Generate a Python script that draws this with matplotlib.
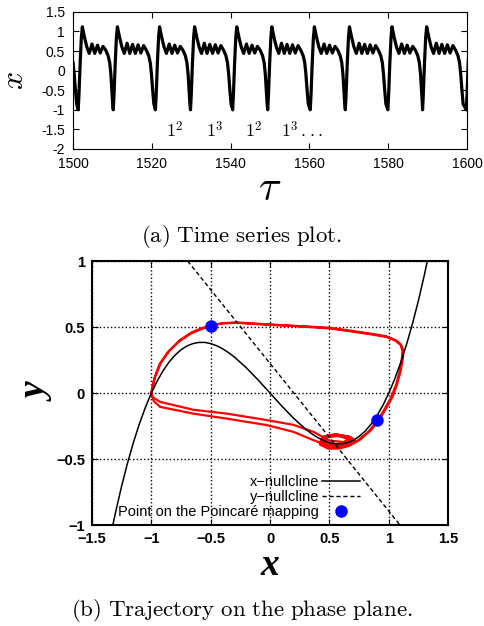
import matplotlib
matplotlib.use("Agg")
import matplotlib.pyplot as plt

plt.rcParams['font.family'] = 'Liberation Sans'
plt.rcParams['mathtext.fontset'] = 'cm'

# ---- (a) time series: one 1^2 cycle and one 1^3 cycle (time from the minimum)
short_dt = [0.0, 0.2, 0.5, 0.8, 1.05, 1.6, 2.2, 2.8, 3.5, 4.2, 4.9, 5.6, 6.3, 7.0, 7.6, 8.0, 8.3, 8.55, 8.75]
short_x = [-1.0, -0.6, 0.2, 0.85, 1.12, 0.85, 0.6, 0.44, 0.68, 0.44, 0.65, 0.45, 0.62, 0.52, 0.38, 0.2, -0.1, -0.5, -0.85]
long_dt = [0.0, 0.2, 0.5, 0.8, 1.05, 1.6, 2.2, 2.8, 3.5, 4.2, 4.9, 5.6, 6.3, 7.0, 7.7, 8.4, 9.0, 9.4, 9.7, 10.0, 10.3]
long_x = [-1.0, -0.6, 0.2, 0.85, 1.12, 0.85, 0.6, 0.44, 0.7, 0.44, 0.67, 0.44, 0.66, 0.45, 0.64, 0.52, 0.38, 0.2, -0.1, -0.5, -0.85]
cycle_start = [1490.6, 1501.3, 1510.2, 1520.9, 1529.8, 1540.5, 1549.4, 1560.2, 1569.1, 1579.9, 1588.7, 1599.8]
cycle_type = ['L', 'S', 'L', 'S', 'L', 'S', 'L', 'S', 'L', 'S', 'L', 'S']

ts_xticks = [1500, 1520, 1540, 1560, 1580, 1600]
ts_yticks = [-2, -1.5, -1, -0.5, 0, 0.5, 1, 1.5]
ts_yticklabels = ['-2', '-1.5', '-1', '-0.5', '0', '0.5', '1', '1.5']
mmo_labels = [r'$\mathsf{1}^{\mathsf{2}}$', r'$\mathsf{1}^{\mathsf{3}}$', r'$\mathsf{1}^{\mathsf{2}}$',
              r'$\mathsf{1}^{\mathsf{3}}\,\mathsf{...}$']
mmo_tau = [1525.8, 1535.9, 1545.9, 1558.0]
mmo_x = -1.55

# ---- (b) phase plane
xnull_x = [-1.34, -1.3, -1.25, -1.2, -1.15, -1.1, -1.05, -1.0, -0.95, -0.9, -0.85, -0.8, -0.75, -0.7,
           -0.65, -0.6, -0.55, -0.5, -0.45, -0.4, -0.35, -0.3, -0.2, -0.1, 0.0, 0.1, 0.2, 0.3, 0.35,
           0.4, 0.45, 0.5, 0.55, 0.6, 0.65, 0.7, 0.75, 0.8, 0.85, 0.9, 0.95, 1.0, 1.05, 1.1, 1.15,
           1.2, 1.25, 1.3, 1.34]
xnull_y = [-1.066, -0.897, -0.703, -0.528, -0.371, -0.231, -0.108, 0.0, 0.093, 0.171, 0.236, 0.288, 0.328,
           0.357, 0.375, 0.384, 0.384, 0.375, 0.359, 0.336, 0.307, 0.273, 0.192, 0.099, 0.0, -0.099,
           -0.192, -0.273, -0.307, -0.336, -0.359, -0.375, -0.384, -0.384, -0.375, -0.357, -0.328,
           -0.288, -0.236, -0.171, -0.093, 0.0, 0.108, 0.231, 0.371, 0.528, 0.703, 0.897, 1.066]
ynull_x = [-0.694, 1.095]
ynull_y = [1.0, -1.0]

traj_x = [-1.0, -0.97, -0.92, -0.85, -0.76, -0.66, -0.58, -0.5, -0.4, -0.28, -0.1, 0.1, 0.3, 0.5, 0.7, 0.85,
          0.98, 1.06, 1.1, 1.12, 1.12, 1.1, 1.07, 1.03, 0.98, 0.92, 0.85, 0.76, 0.68, 0.6, 0.5, 0.43,
          0.45, 0.55, 0.67, 0.71, 0.64, 0.54, 0.46, 0.48, 0.58, 0.66, 0.62, 0.5, 0.365, 0.196, -0.028,
          -0.365, -0.646, -0.927, -0.99,
          -1.0, -0.975, -0.93, -0.86, -0.77, -0.67, -0.58, -0.5, -0.4, -0.28, -0.1, 0.1, 0.3, 0.5, 0.7,
          0.85, 0.98, 1.06, 1.1, 1.115, 1.11, 1.09, 1.06, 1.015, 0.965, 0.905, 0.83, 0.74, 0.66, 0.58,
          0.49, 0.42, 0.44, 0.54, 0.66, 0.72, 0.66, 0.55, 0.45, 0.46, 0.56, 0.68, 0.7, 0.6, 0.5, 0.44,
          0.47, 0.57, 0.67, 0.66, 0.58, 0.477, 0.365, 0.196, -0.028, -0.365, -0.646, -0.927, -0.98, -1.0]
traj_y = [0.0, 0.12, 0.23, 0.32, 0.4, 0.46, 0.49, 0.51, 0.53, 0.535, 0.525, 0.515, 0.505, 0.495, 0.47, 0.45,
          0.43, 0.4, 0.37, 0.33, 0.27, 0.17, 0.07, -0.03, -0.11, -0.2, -0.28, -0.35, -0.39, -0.41, -0.41, -0.38,
          -0.33, -0.31, -0.33, -0.36, -0.39, -0.395, -0.37, -0.33, -0.32, -0.345, -0.37, -0.36, -0.293, -0.24, -0.204,
          -0.155, -0.126, -0.066, -0.03,
          0.0, 0.11, 0.22, 0.31, 0.39, 0.45, 0.485, 0.51, 0.528, 0.532, 0.522, 0.512, 0.502, 0.49, 0.465,
          0.445, 0.425, 0.395, 0.365, 0.32, 0.26, 0.16, 0.06, -0.04, -0.12, -0.21, -0.29, -0.36, -0.4, -0.42,
          -0.42, -0.39, -0.335, -0.315, -0.33, -0.36, -0.395, -0.4, -0.375, -0.33, -0.315, -0.335, -0.37, -0.39, -0.39, -0.36,
          -0.33, -0.325, -0.345, -0.37, -0.385, -0.394, -0.356, -0.293, -0.242, -0.193, -0.155, -0.104, -0.06, 0.0]

poincare_x = [-0.5, 0.9]
poincare_y = [0.51, -0.2]

pp_xticks = [-1.5, -1, -0.5, 0, 0.5, 1, 1.5]
pp_xticklabels = ['\u22121.5', '\u22121', '\u22120.5', '0', '0.5', '1', '1.5']
pp_yticks = [-1, -0.5, 0, 0.5, 1]
pp_yticklabels = ['\u22121', '\u22120.5', '0', '0.5', '1']

# build the time series from the cycle templates
tau, xs = [], []
for start, kind in zip(cycle_start, cycle_type):
    dt, xv = (short_dt, short_x) if kind == 'S' else (long_dt, long_x)
    tau += [start + d for d in dt]
    xs += xv

fig = plt.figure(figsize=(4.84, 6.26), dpi=100)

ax1 = fig.add_axes([0.151, 0.762, 0.814, 0.219])
ax1.plot(tau, xs, color='black', lw=2.3, solid_joinstyle='round')
ax1.set_xlim(1500, 1600)
ax1.set_ylim(-2, 1.5)
ax1.set_xticks(ts_xticks)
ax1.set_yticks(ts_yticks)
ax1.set_yticklabels(ts_yticklabels)
ax1.tick_params(direction='in', top=True, right=True, labelsize=10, length=4, pad=6)
for lab, t in zip(mmo_labels, mmo_tau):
    ax1.text(t, mmo_x, lab, fontsize=13, ha='center', va='center')
ax1.set_xlabel(r'$\tau$', fontsize=30, va='center')
ax1.xaxis.set_label_coords(0.5, -0.29)
ax1.set_ylabel(r'$x$', fontsize=23, va='center')
ax1.yaxis.set_label_coords(-0.147, 0.5)
fig.text(0.5, 1 - 237 / 626, r'$\mathrm{(a)\ Time\ series\ plot.}$', ha='center', va='center', fontsize=16.5)

ax2 = fig.add_axes([0.190, 0.161, 0.736, 0.422])
ax2.grid(True, color='black', linestyle=':', linewidth=1.0)
ax2.plot(traj_x, traj_y, color='red', lw=1.6, zorder=3)
ax2.plot(xnull_x, xnull_y, color='black', lw=1.1, zorder=4, label='x\u2212nullcline')
ax2.plot(ynull_x, ynull_y, color='black', lw=1.0, ls=(0, (3, 2)), zorder=4, label='y\u2212nullcline')
ax2.plot(poincare_x, poincare_y, 'o', color='blue', ms=8, zorder=5, ls='none',
         label='Point on the Poincar\u00e9 mapping')
ax2.set_xlim(-1.5, 1.5)
ax2.set_ylim(-1, 1)
ax2.set_xticks(pp_xticks)
ax2.set_xticklabels(pp_xticklabels)
ax2.set_yticks(pp_yticks)
ax2.set_yticklabels(pp_yticklabels)
ax2.tick_params(direction='in', top=True, right=True, labelsize=10.5, length=4, pad=5)
for lab in ax2.get_xticklabels() + ax2.get_yticklabels():
    lab.set_fontweight('bold')
for sp in ax2.spines.values():
    sp.set_linewidth(1.5)
ax2.legend(loc='lower right', bbox_to_anchor=(0.753, 0.022), frameon=False, markerfirst=False,
           fontsize=10.5, handlelength=2.6, labelspacing=0.08, handletextpad=0.2,
           borderpad=0.0, borderaxespad=0.0)
ax2.set_xlabel('x', family='Liberation Serif', style='italic', weight='bold', fontsize=27, va='center')
ax2.xaxis.set_label_coords(0.5, -0.152)
ax2.set_ylabel('y', family='Liberation Serif', style='italic', weight='bold', fontsize=27, va='center')
ax2.yaxis.set_label_coords(-0.152, 0.5)
fig.text(0.5, 1 - 610 / 626, r'$\mathrm{(b)\ Trajectory\ on\ the\ phase\ plane.}$', ha='center', va='center',
         fontsize=16.5)

fig.savefig('out.png', dpi=100)
